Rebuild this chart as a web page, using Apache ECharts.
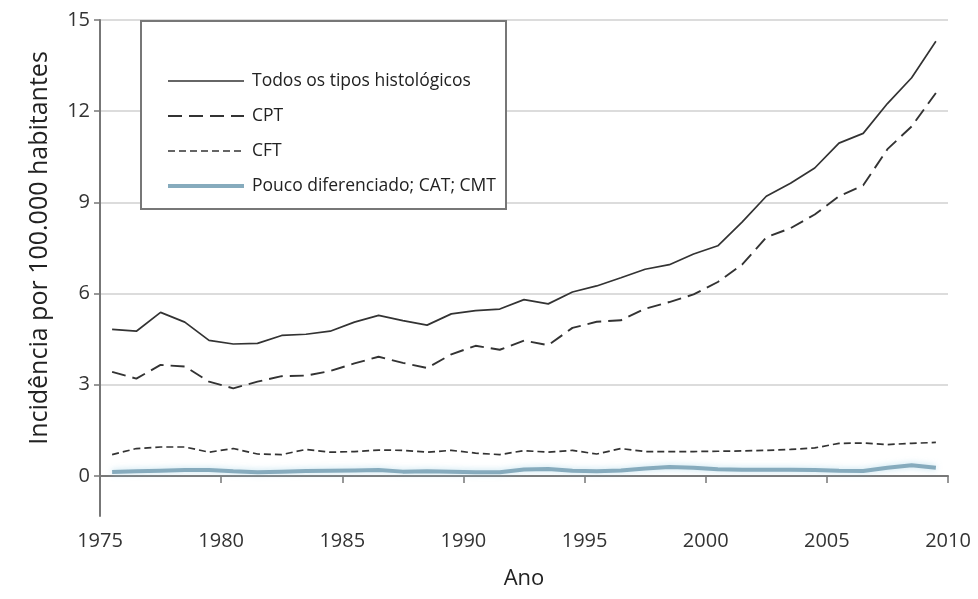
<!DOCTYPE html>
<html>
<head>
<meta charset="utf-8">
<script src="https://cdn.jsdelivr.net/npm/echarts@6/dist/echarts.min.js"></script>
<style>html,body{margin:0;padding:0;background:#fff;}#c{width:978px;height:599px;}</style>
</head>
<body>
<div id="c"></div>
<script>
const years = [1975.5,1976.5,1977.5,1978.5,1979.5,1980.5,1981.5,1982.5,1983.5,1984.5,1985.5,1986.5,1987.5,1988.5,1989.5,1990.5,1991.5,1992.5,1993.5,1994.5,1995.5,1996.5,1997.5,1998.5,1999.5,2000.5,2001.5,2002.5,2003.5,2004.5,2005.5,2006.5,2007.5,2008.5,2009.5];
const todos = [4.82,4.76,5.38,5.06,4.46,4.34,4.36,4.62,4.66,4.76,5.06,5.28,5.11,4.96,5.33,5.44,5.49,5.8,5.66,6.05,6.25,6.52,6.8,6.95,7.3,7.57,8.35,9.2,9.63,10.13,10.95,11.27,12.25,13.1,14.3];
const cpt = [3.42,3.2,3.65,3.6,3.1,2.88,3.1,3.28,3.3,3.45,3.7,3.92,3.72,3.55,4.0,4.28,4.15,4.45,4.3,4.87,5.07,5.12,5.5,5.72,5.97,6.38,6.95,7.85,8.15,8.6,9.2,9.56,10.75,11.5,12.6];
const cft = [0.7,0.9,0.95,0.95,0.78,0.9,0.72,0.7,0.87,0.78,0.8,0.85,0.84,0.78,0.84,0.75,0.7,0.83,0.78,0.84,0.72,0.9,0.8,0.8,0.8,0.81,0.82,0.84,0.87,0.92,1.07,1.08,1.03,1.07,1.1];
const pouco = [0.13,0.15,0.17,0.19,0.19,0.15,0.12,0.14,0.16,0.17,0.18,0.19,0.14,0.15,0.14,0.12,0.12,0.21,0.23,0.17,0.15,0.18,0.24,0.29,0.27,0.22,0.2,0.2,0.2,0.19,0.17,0.16,0.27,0.35,0.27];
const yTicks = [0,3,6,9,12,15];
const names = ['Todos os tipos histológicos','CPT','CFT','Pouco diferenciado; CAT; CMT'];

const pair = arr => years.map((y,i)=>[y,arr[i]]);
const font = '"Open Sans", "Noto Sans", sans-serif';
const chart = echarts.init(document.getElementById('c'), null, {renderer:'canvas'});
chart.setOption({
  animation:false,
  backgroundColor:'#fff',
  grid:{left:100,right:30,top:20,bottom:83},
  graphic:[{type:'rect',z:3,shape:{x:141,y:21,width:365,height:188},style:{fill:'#fff',stroke:'#777',lineWidth:2}}],
  legend:{
    z:10,orient:'vertical',left:166,top:72,padding:0,itemWidth:76,itemHeight:14,itemGap:17,
    data:names,
    itemStyle:{opacity:0},
    lineStyle:{width:'inherit'},
    textStyle:{fontFamily:font,fontSize:17.5,color:'#222',lineHeight:14,padding:[0,0,0,3]}
  },
  xAxis:{
    type:'value',min:1975,max:2010,interval:5,
    name:'Ano',nameLocation:'middle',nameGap:52,
    nameTextStyle:{fontFamily:font,fontSize:22,color:'#222'},
    axisLine:{show:true,lineStyle:{color:'#777',width:2}},
    axisTick:{show:true,length:7,lineStyle:{color:'#777',width:1.5}},
    axisLabel:{fontFamily:font,fontSize:20,color:'#333',margin:15,formatter:v=>String(v)},
    splitLine:{show:false}
  },
  yAxis:{
    type:'value',min:-1.32,max:15,
    name:'Incidência por 100.000 habitantes',nameLocation:'middle',nameGap:48,
    nameTextStyle:{fontFamily:font,fontSize:25,color:'#222',padding:[0,0,0,40]},
    axisLine:{show:true,lineStyle:{color:'#777',width:2}},
    axisTick:{show:true,length:6,customValues:yTicks,lineStyle:{color:'#777',width:1.5}},
    axisLabel:{fontFamily:font,fontSize:20,color:'#333',margin:10,customValues:yTicks},
    splitLine:{show:true,lineStyle:{color:'#dcdcdc',width:2}}
  },
  series:[
    {name:names[0],type:'line',data:pair(todos),showSymbol:false,symbol:'none',z:5,lineStyle:{color:'#333',width:1.7,type:'solid'},itemStyle:{color:'#333'}},
    {name:names[1],type:'line',data:pair(cpt),showSymbol:false,symbol:'none',z:5,lineStyle:{color:'#333',width:1.9,type:[14,7]},itemStyle:{color:'#333'}},
    {name:names[2],type:'line',data:pair(cft),showSymbol:false,symbol:'none',z:5,lineStyle:{color:'#333',width:1.7,type:[7,4]},itemStyle:{color:'#333'}},
    {name:names[3],type:'line',data:pair(pouco),showSymbol:false,symbol:'none',z:4,lineStyle:{color:'#86abbd',width:4,shadowColor:'rgba(160,210,230,0.7)',shadowBlur:6},itemStyle:{color:'#86abbd'}}
  ]
});
</script>
</body>
</html>
